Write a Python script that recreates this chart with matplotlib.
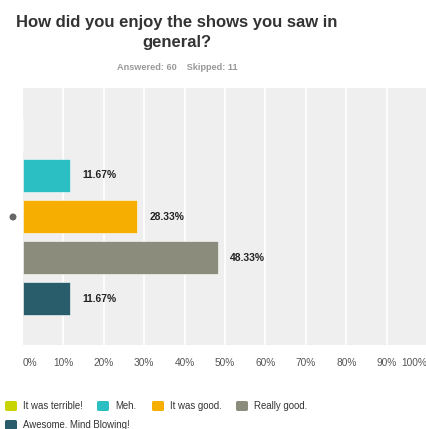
import matplotlib.pyplot as plt
from matplotlib.patches import FancyBboxPatch

# survey answers, top to bottom
categories = ["It was terrible!", "Meh.", "It was good.", "Really good.",
              "Awesome. Mind Blowing!"]
percent = [0.0, 11.67, 28.33, 48.33, 11.67]
colors = ["#c8d400", "#2bbfc4", "#f6ae00", "#8c8c7c", "#2a5d6c"]
xticks = [0, 10, 20, 30, 40, 50, 60, 70, 80, 90, 100]
answered = 60
skipped = 11

plt.rcParams['font.family'] = ['Liberation Sans', 'DejaVu Sans']

fig = plt.figure(figsize=(4.27, 4.29), dpi=100)
ax = fig.add_axes([23/427, 1 - 345/429, 404/427, 257/429])
ax.set_facecolor("#efefef")

ypos = list(range(len(categories)))
ax.barh(ypos, percent, height=0.8, color=colors, edgecolor="white",
        linewidth=0.4, zorder=3)
for y, v in zip(ypos, percent):
    if v > 0:
        ax.text(v + 3, y, "%.2f%%" % v, va="center", ha="left",
                fontsize=7.4, fontweight="bold", color="#222222", zorder=4)

ax.set_xlim(0, 100)
ax.set_ylim(5.13, -1.13)
for t in xticks[1:-1]:
    ax.axvline(t, color="white", linewidth=1.2, zorder=1)

ax.set_xticks(xticks)
ax.set_xticklabels(["%d%%" % t for t in xticks])
ax.tick_params(axis="x", length=0, pad=9, labelsize=7.3, labelcolor="#555555")
labels = ax.get_xticklabels()
labels[0].set_ha("left")
labels[-1].set_ha("right")
ax.set_yticks([])
for s in ax.spines.values():
    s.set_visible(False)

# small round marker left of the bars
fig.patches.append(plt.Circle((13/427, 1 - 217/429), 0.0065,
                              transform=fig.transFigure, color="#666666"))

fig.text(177/427, 1 - 22/429, "How did you enjoy the shows you saw in",
         ha="center", va="center", fontsize=12, fontweight="bold",
         color="#333333")
fig.text(177/427, 1 - 42/429, "general?", ha="center", va="center",
         fontsize=12, fontweight="bold", color="#333333")
fig.text(177/427, 1 - 68/429,
         "Answered: %d    Skipped: %d" % (answered, skipped),
         ha="center", va="center", fontsize=6.6, fontweight="bold",
         color="#999999")

# legend, wrapped on two rows
leg_pos = [(5, 406), (97, 406), (152, 406), (236, 406), (5, 425)]
for (lx, ly), lab, c in zip(leg_pos, categories, colors):
    fig.patches.append(FancyBboxPatch(
        (lx/427, 1 - (ly + 5)/429), 12/427, 10/429,
        boxstyle="round,pad=0,rounding_size=0.004",
        transform=fig.transFigure, facecolor=c, edgecolor="none"))
    fig.text((lx + 18)/427, 1 - ly/429, lab, ha="left", va="center",
             fontsize=6.9, color="#333333")

fig.savefig("out.png", dpi=100)
